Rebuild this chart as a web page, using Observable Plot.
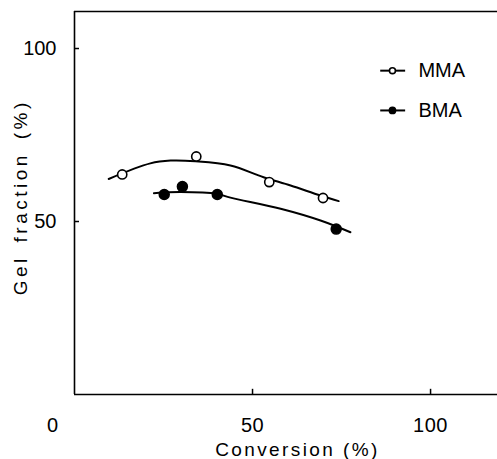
<!DOCTYPE html>
<html>
<head>
<meta charset="utf-8">
<script src="https://cdn.jsdelivr.net/npm/d3@7"></script>
<script src="https://cdn.jsdelivr.net/npm/@observablehq/plot@0.6"></script>
<style>
  html, body { margin: 0; padding: 0; background: #fff; }
  svg { font-family: "Liberation Sans", Arial, sans-serif; }
  .xtitle text { letter-spacing: 2.4px; }
  .ytitle text { letter-spacing: 3.5px; word-spacing: 4px; }
  .ticklab text { letter-spacing: 0.5px; }
</style>
</head>
<body>
<div id="chart"></div>
<script>
// Measured points
const mmaX = [13.4, 34.2, 54.7, 69.8];
const mmaY = [63.6, 68.8, 61.4, 56.8];
const bmaX = [25.2, 30.3, 40.1, 73.5];
const bmaY = [57.8, 60.1, 57.8, 47.8];

// Fitted curves
const mmaCurveX = [9.6, 21.3, 27.0, 34.0, 43.8, 53.1, 60.7, 69.1, 74.2];
const mmaCurveY = [62.3, 66.8, 67.6, 67.4, 66.2, 62.8, 60.4, 57.5, 55.9];
const bmaCurveX = [22.3, 29.8, 39.9, 43.8, 57.9, 69.1, 77.5];
const bmaCurveY = [58.2, 58.5, 58.0, 56.9, 53.7, 50.3, 46.9];

// Ticks
const xTicks = [50, 100];
const yTicks = [50, 100];
const originLabel = ["0"];

const series = ["MMA", "BMA"];

const mma = mmaX.map((x, i) => ({x, y: mmaY[i]}));
const bma = bmaX.map((x, i) => ({x, y: bmaY[i]}));
const mmaCurve = mmaCurveX.map((x, i) => ({x, y: mmaCurveY[i]}));
const bmaCurve = bmaCurveX.map((x, i) => ({x, y: bmaCurveY[i]}));

// legend anchor positions (data units)
const legendY = [93.6, 82.1];
const legend = series.map((s, i) => ({name: s, y: legendY[i], filled: i === 1}));

const chart = Plot.plot({
  width: 497,
  height: 459,
  marginLeft: 74,
  marginRight: 0,
  marginTop: 11,
  marginBottom: 65,
  x: {domain: [0, 118.8], axis: null},
  y: {domain: [0, 110.7], axis: null},
  marks: [
    // frame: left, top, bottom
    Plot.ruleX([0], {strokeWidth: 1.6}),
    Plot.ruleY([0, 110.7], {strokeWidth: 1.6}),
    // inward ticks
    Plot.ruleX(xTicks, {y1: 0, y2: 1.5, strokeWidth: 1.5}),
    Plot.ruleY(yTicks, {x1: 0, x2: 1.4, strokeWidth: 1.5}),
    // tick labels
    Plot.text(xTicks, {x: d => d, y: 0, text: d => String(d), dy: 31, fontSize: 20, className: "ticklab"}),
    Plot.text(originLabel, {x: 0, y: 0, text: d => d, dy: 31, dx: -22, fontSize: 20}),
    Plot.text(yTicks, {x: 0, y: d => d, text: d => String(d), dx: -18, textAnchor: "end", fontSize: 20}),
    // axis titles
    Plot.text(["Conversion (%)"], {x: 62.6, y: 0, dy: 55, text: d => d, fontSize: 19, className: "xtitle"}),
    Plot.text(["Gel fraction (%)"], {x: 0, y: 57, dx: -54, rotate: -90, text: d => d, fontSize: 19, className: "ytitle"}),
    // curves
    Plot.line(mmaCurve, {x: "x", y: "y", curve: "catmull-rom", strokeWidth: 2}),
    Plot.line(bmaCurve, {x: "x", y: "y", curve: "catmull-rom", strokeWidth: 2}),
    // points
    Plot.dot(mma, {x: "x", y: "y", r: 4.6, fill: "white", stroke: "black", strokeWidth: 1.6}),
    Plot.dot(bma, {x: "x", y: "y", r: 5, fill: "black", stroke: "black"}),
    // legend
    Plot.ruleY(legend, {y: "y", x1: 86.0, x2: 93.0, strokeWidth: 2}),
    Plot.dot(legend, {x: 89.3, y: "y", r: d => d.filled ? 4.5 : 4.2, fill: d => d.filled ? "black" : "white", stroke: "black", strokeWidth: 1.6}),
    Plot.text(legend, {x: 96.6, y: "y", text: "name", textAnchor: "start", fontSize: 20})
  ]
});
document.getElementById("chart").appendChild(chart);
</script>
</body>
</html>
